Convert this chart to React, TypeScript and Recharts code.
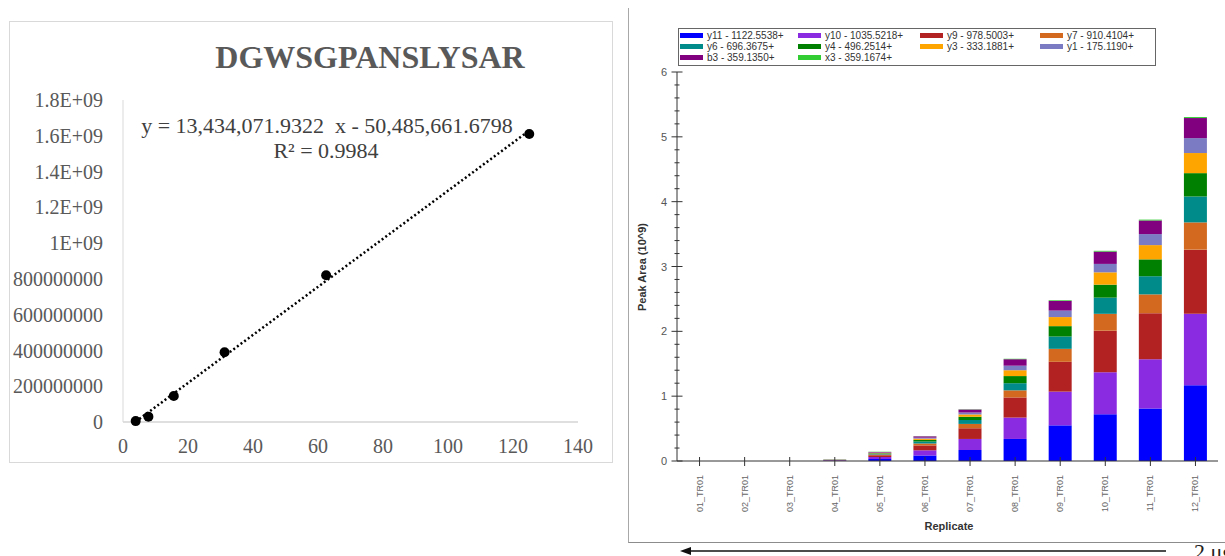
import React from 'react';
import {
  ScatterChart,
  Scatter,
  XAxis,
  YAxis,
  ReferenceLine,
  BarChart,
  Bar,
} from 'recharts';

// ---------- Calibration curve (left panel) ----------
const concentration = [3.90625, 7.8125, 15.625, 31.25, 62.5, 125];
const peakArea = [5.0e6, 3.0e7, 1.45e8, 3.9e8, 8.2e8, 1.61e9];
const slope = 13434071.9322;
const intercept = -50485661.6798;
const rSquared = 0.9984;
const calX = [0, 20, 40, 60, 80, 100, 120, 140];
const calY = [0, 2e8, 4e8, 6e8, 8e8, 1e9, 1.2e9, 1.4e9, 1.6e9, 1.8e9];
const calYLabels = [
  '0', '200000000', '400000000', '600000000', '800000000',
  '1E+09', '1.2E+09', '1.4E+09', '1.6E+09', '1.8E+09',
];

// ---------- Fragment peak areas (right panel), units of 10^9 ----------
const replicates = [
  '01_TR01', '02_TR01', '03_TR01', '04_TR01', '05_TR01', '06_TR01',
  '07_TR01', '08_TR01', '09_TR01', '10_TR01', '11_TR01', '12_TR01',
];
const y11 = [0.0003, 0.0003, 0.0004, 0.006, 0.03, 0.085, 0.17, 0.34, 0.55, 0.72, 0.81, 1.17];
const y10 = [0.0003, 0.0003, 0.0004, 0.005, 0.03, 0.08, 0.17, 0.33, 0.52, 0.65, 0.76, 1.10];
const y9 = [0.0003, 0.0003, 0.0004, 0.005, 0.03, 0.075, 0.165, 0.31, 0.46, 0.64, 0.71, 0.99];
const y7 = [0.0001, 0.0001, 0.0002, 0.002, 0.01, 0.03, 0.067, 0.11, 0.20, 0.26, 0.29, 0.42];
const y6 = [0.0001, 0.0001, 0.0002, 0.002, 0.01, 0.03, 0.06, 0.11, 0.19, 0.25, 0.28, 0.40];
const y4 = [0.0001, 0.0001, 0.0002, 0.002, 0.01, 0.025, 0.05, 0.11, 0.16, 0.20, 0.26, 0.36];
const y3 = [0.0001, 0.0001, 0.0001, 0.001, 0.008, 0.02, 0.036, 0.09, 0.14, 0.19, 0.22, 0.31];
const y1 = [0.0001, 0.0001, 0.0001, 0.001, 0.005, 0.015, 0.03, 0.07, 0.10, 0.13, 0.17, 0.23];
const b3 = [0.0001, 0.0001, 0.0001, 0.001, 0.007, 0.02, 0.046, 0.10, 0.15, 0.19, 0.21, 0.31];
const x3 = [0.0, 0.0, 0.0, 0.0002, 0.001, 0.002, 0.004, 0.007, 0.01, 0.012, 0.013, 0.015];

const fragmentKeys = ['y11', 'y10', 'y9', 'y7', 'y6', 'y4', 'y3', 'y1', 'b3', 'x3'];
const fragmentLabels = [
  'y11 - 1122.5538+', 'y10 - 1035.5218+', 'y9 - 978.5003+', 'y7 - 910.4104+',
  'y6 - 696.3675+', 'y4 - 496.2514+', 'y3 - 333.1881+', 'y1 - 175.1190+',
  'b3 - 359.1350+', 'x3 - 359.1674+',
];
const fragmentColors = [
  '#0000FF', '#8A2BE2', '#B22222', '#D2691E', '#008B8B',
  '#008000', '#FFA500', '#7B7BC4', '#800080', '#32CD32',
];
const peakMajor = [0, 1, 2, 3, 4, 5, 6];

const fragmentSeries = [y11, y10, y9, y7, y6, y4, y3, y1, b3, x3];

const calPoints = concentration.map((x, i) => ({ x, y: peakArea[i] }));
const xStart = concentration[0];
const xEnd = concentration[concentration.length - 1];
const trendSegment = [
  { x: xStart, y: slope * xStart + intercept },
  { x: xEnd, y: slope * xEnd + intercept },
];

const barData = replicates.map((name, i) => {
  const row: Record<string, number | string> = { name };
  fragmentKeys.forEach((k, j) => {
    row[k] = fragmentSeries[j][i];
  });
  return row;
});

const peakTicks = peakMajor.slice(0, -1).flatMap((m) => [m, m + 0.2, m + 0.4, m + 0.6, m + 0.8]).concat([6]);

const fmt = (v: number) =>
  Math.abs(v).toLocaleString('en-US', { minimumFractionDigits: 4, maximumFractionDigits: 4 });
const equation = `y = ${fmt(slope)}  x ${intercept < 0 ? '-' : '+'} ${fmt(intercept)}`;

const SERIF = '"Liberation Serif", "Times New Roman", serif';
const SANS = '"Liberation Sans", Arial, sans-serif';

const Dot = (props: any) => {
  const { cx, cy } = props;
  if (cx == null || cy == null) return null;
  return <circle cx={cx} cy={cy} r={5} fill="#000" />;
};

const PeakTick = (props: any) => {
  const { x, y, payload } = props;
  const v = payload.value as number;
  const major = Math.abs(v - Math.round(v)) < 1e-6;
  const half = major ? 5.5 : 2.5;
  return (
    <g>
      <line x1={x - half} x2={x + half} y1={y} y2={y} stroke="#333" strokeWidth={1} />
      {major && (
        <text x={x - 10} y={y} dy={4} textAnchor="end" fontSize={11} fill="#555" fontFamily={SANS}>
          {Math.round(v)}
        </text>
      )}
    </g>
  );
};

const ReplicateTick = (props: any) => {
  const { x, y, payload } = props;
  const tx = x + 3;
  const ty = y + 14;
  return (
    <g>
      <line x1={x} x2={x} y1={y - 4} y2={y + 5} stroke="#333" strokeWidth={1} />
      <text
        x={tx}
        y={ty}
        transform={`rotate(-90 ${tx} ${ty})`}
        textAnchor="end"
        fontSize={9}
        fill="#666"
        fontFamily={SANS}
      >
        {payload.value}
      </text>
    </g>
  );
};

const legendCols = [1, 119, 241, 361];
const legendRows = [1, 12, 23];

export default function App() {
  return (
    <div
      style={{
        position: 'absolute',
        left: 0,
        top: 0,
        width: 1225,
        height: 556,
        overflow: 'hidden',
        background: '#fff',
      }}
    >
      {/* Left panel frame */}
      <div
        style={{
          position: 'absolute',
          left: 9,
          top: 21,
          width: 604,
          height: 442,
          border: '1px solid #d9d9d9',
          boxSizing: 'border-box',
        }}
      />
      <div style={{ position: 'absolute', left: 9, top: 22 }}>
        <ScatterChart width={604} height={440} margin={{ top: 78, right: 35, bottom: 10, left: 0 }}>
          <XAxis
            type="number"
            dataKey="x"
            domain={[0, 140]}
            ticks={calX}
            interval={0}
            height={30}
            tickLine={false}
            tickSize={0}
            tickMargin={17}
            axisLine={{ stroke: '#bfbfbf' }}
            tick={{ fill: '#595959', fontSize: 20, fontFamily: SERIF }}
          />
          <YAxis
            type="number"
            dataKey="y"
            domain={[0, 1.8e9]}
            ticks={calY}
            interval={0}
            width={114}
            tickLine={false}
            tickSize={0}
            tickMargin={20}
            axisLine={{ stroke: '#d9d9d9' }}
            tick={{ fill: '#595959', fontSize: 20, fontFamily: SERIF }}
            tickFormatter={(v: number) => calYLabels[calY.indexOf(v)] ?? String(v)}
          />
          <ReferenceLine
            segment={trendSegment}
            stroke="#000"
            strokeWidth={2.5}
            strokeDasharray="2 2.5"
            ifOverflow="visible"
          />
          <Scatter data={calPoints} fill="#000" shape={<Dot />} isAnimationActive={false} />
        </ScatterChart>
      </div>

      {/* Right panel frame */}
      <div
        style={{
          position: 'absolute',
          left: 628,
          top: 8,
          width: 700,
          height: 535,
          borderLeft: '1px solid #a8a8a8',
          borderBottom: '1px solid #8c8c8c',
          boxSizing: 'border-box',
        }}
      />
      <div style={{ position: 'absolute', left: 628, top: 8 }}>
        <BarChart
          width={597}
          height={534}
          data={barData}
          margin={{ top: 64, right: 7, bottom: 0, left: 0 }}
          barSize={23}
        >
          <XAxis
            dataKey="name"
            interval={0}
            height={81}
            tickLine={false}
            tickSize={0}
            tickMargin={0}
            axisLine={{ stroke: '#333' }}
            tick={<ReplicateTick />}
          />
          <YAxis
            type="number"
            domain={[0, 6]}
            ticks={peakTicks}
            interval={0}
            width={49}
            tickLine={false}
            tickSize={0}
            tickMargin={0}
            axisLine={{ stroke: '#333' }}
            tick={<PeakTick />}
          />
          {fragmentKeys.map((k, j) => (
            <Bar key={k} dataKey={k} stackId="peak" fill={fragmentColors[j]} isAnimationActive={false} />
          ))}
        </BarChart>
      </div>

      {/* Fragment legend */}
      <div
        style={{
          position: 'absolute',
          left: 678,
          top: 28,
          width: 478,
          height: 38,
          border: '1px solid #666',
          boxSizing: 'border-box',
          background: '#fff',
          fontFamily: SANS,
          fontSize: 10,
          color: '#333',
        }}
      >
        {fragmentLabels.map((label, i) => {
          const col = i % 4;
          const row = Math.floor(i / 4);
          return (
            <div
              key={label}
              style={{
                position: 'absolute',
                left: legendCols[col],
                top: legendRows[row],
                height: 11,
                display: 'flex',
                alignItems: 'center',
                whiteSpace: 'nowrap',
              }}
            >
              <span
                style={{
                  display: 'inline-block',
                  width: 23,
                  height: 5,
                  background: fragmentColors[i],
                  marginRight: 4,
                }}
              />
              <span style={{ lineHeight: '11px' }}>{label}</span>
            </div>
          );
        })}
      </div>

      {/* Titles, regression text and annotations */}
      <svg
        width={1225}
        height={556}
        style={{ position: 'absolute', left: 0, top: 0, pointerEvents: 'none' }}
      >
        <text x={370} y={68} textAnchor="middle" fontFamily={SERIF} fontWeight="bold" fontSize={32} fill="#595959">
          DGWSGPANSLYSAR
        </text>
        <text
          x={327}
          y={133}
          textAnchor="middle"
          fontFamily={SERIF}
          fontSize={22}
          fill="#404040"
          style={{ whiteSpace: 'pre' }}
        >
          {equation}
        </text>
        <text x={326} y={158} textAnchor="middle" fontFamily={SERIF} fontSize={22} fill="#404040">
          {`R² = ${rSquared.toFixed(4)}`}
        </text>

        <text
          x={646}
          y={267}
          transform="rotate(-90 646 267)"
          textAnchor="middle"
          fontFamily={SANS}
          fontWeight="bold"
          fontSize={11}
          fill="#333"
        >
          Peak Area (10^9)
        </text>
        <text x={949} y={530} textAnchor="middle" fontFamily={SANS} fontWeight="bold" fontSize={11} fill="#333">
          Replicate
        </text>

        <line x1={688} x2={1166} y1={551} y2={551} stroke="#111" strokeWidth={1.5} />
        <polygon points="680,551 691,547 691,555" fill="#111" />
        <text x={1194} y={559} fontFamily={SERIF} fontSize={22} fill="#222">
          2 μg
        </text>
      </svg>
    </div>
  );
}
